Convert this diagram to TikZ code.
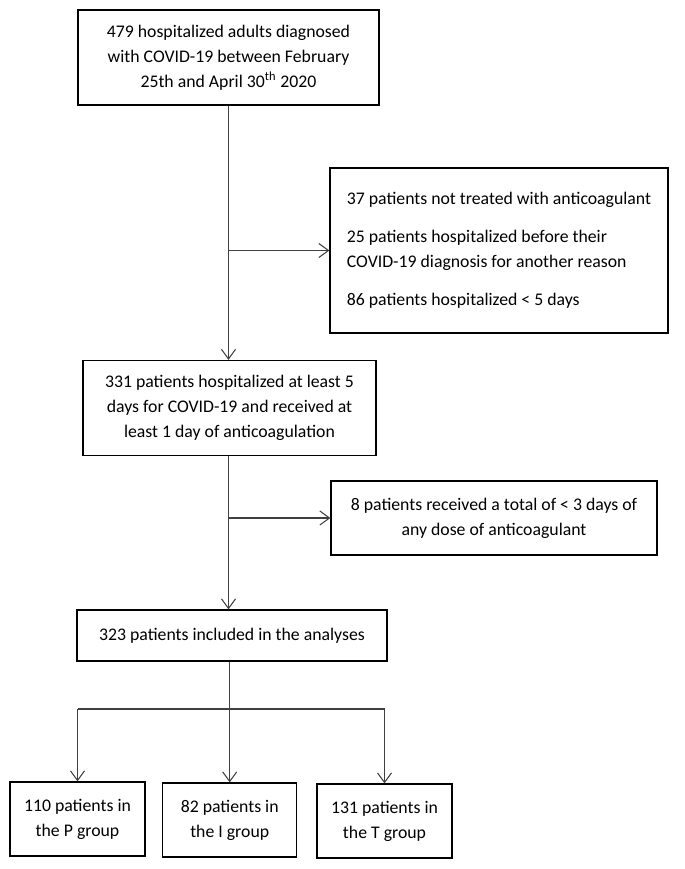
\documentclass[tikz,border=0pt]{standalone}
\usepackage{fontspec}
\setmainfont{Carlito}
\usetikzlibrary{arrows.meta}
\tikzset{
  box/.style={draw=black,line width=0.7pt,rectangle,align=center,inner sep=0pt,font=\fontsize{10.1}{14.2}\selectfont},
  flow/.style={line width=0.6pt,draw=black!75,-{Straight Barb[length=5.5pt,width=8pt]}},
  link/.style={line width=0.6pt,draw=black!75}
}
\begin{document}
\begin{tikzpicture}[x=0.02cm,y=-0.02cm]
                        \useasboundingbox (0,0) rectangle (685,869);
                        % main column
                        \node (top) at (228.5,57.5) [box,minimum width=301*0.02cm,minimum height=95*0.02cm]
                            {479 hospitalized adults diagnosed\\with COVID-19 between February\\25th and April 30\textsuperscript{th} 2020};
                        \node (excl1) at (499,250.5) [box,minimum width=338*0.02cm,minimum height=165*0.02cm,align=left]
                            {37 patients not treated with anticoagulant\\[7.5pt]25 patients hospitalized before their\\COVID-19 diagnosis for another reason\\[7.5pt]86 patients hospitalized < 5 days};
                        \node (mid) at (229.5,408) [box,minimum width=293*0.02cm,minimum height=95*0.02cm]
                            {331 patients hospitalized at least 5\\days for COVID-19 and received at\\least 1 day of anticoagulation};
                        \node (excl2) at (494,518) [box,minimum width=326*0.02cm,minimum height=74*0.02cm]
                            {8 patients received a total of < 3 days of\\any dose of anticoagulant};
                        \node (incl) at (232,635.5) [box,minimum width=310*0.02cm,minimum height=51*0.02cm]
                            {323 patients included in the analyses};
                        % groups
                        \node (P) at (77.5,819) [box,minimum width=135*0.02cm,minimum height=74*0.02cm] {110 patients in\\the P group};
                        \node (I) at (229.7,820) [box,minimum width=134*0.02cm,minimum height=74*0.02cm] {82 patients in\\the I group};
                        \node (T) at (384.5,821) [box,minimum width=135*0.02cm,minimum height=74*0.02cm] {131 patients in\\the T group};
                        \draw [flow] (top.south) -- (top.south |- mid.north);
                        \draw [flow] (top.south |- excl1.west) -- (excl1.west);
                        \draw [flow] (top.south |- mid.south) -- (top.south |- incl.north);
                        \draw [flow] (top.south |- excl2.west) -- (excl2.west);
                        \coordinate (bar) at (230,709);
                        \draw [link] (bar -| P.north) -- (bar -| T.north);
                        \draw [flow] (I.north |- incl.south) -- (I.north);
                        \draw [flow] (bar -| P.north) -- (P.north);
                        \draw [flow] (bar -| T.north) -- (T.north);
                    \end{tikzpicture}
\end{document}
